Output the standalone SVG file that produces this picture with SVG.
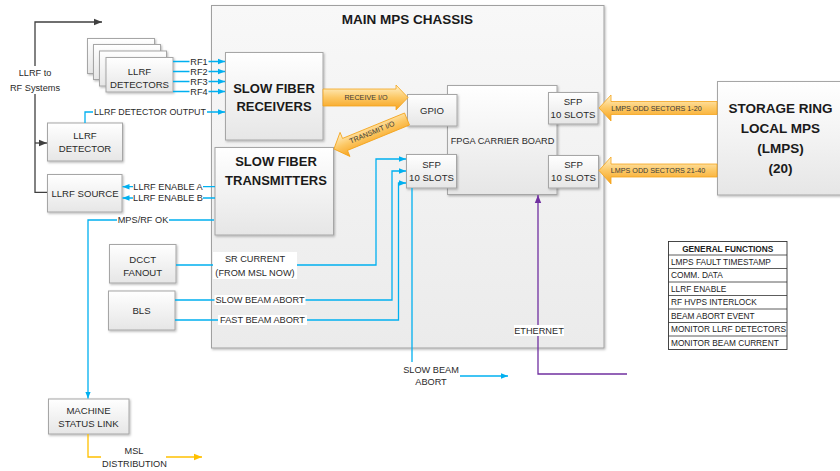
<svg xmlns="http://www.w3.org/2000/svg" width="840" height="471" viewBox="0 0 840 471">
<defs>
<style>
text{font-family:"Liberation Sans",Arial,sans-serif;fill:#2a2a2a;}
.t{font-size:9.6px;text-anchor:middle;}
.l{font-size:9.2px;text-anchor:middle;}
.h{font-size:13.5px;font-weight:bold;text-anchor:middle;fill:#1a1a1a;}
.sm{font-size:7.2px;text-anchor:middle;fill:#3a3a3a;}
.tb{font-size:8.3px;fill:#222;}
.box{fill:url(#gBox);stroke:#a6a6a6;stroke-width:1;filter:url(#sh);}
.bl{fill:none;stroke:#00b0f0;stroke-width:1.3;}
.blk{fill:none;stroke:#404040;stroke-width:1.3;}
.pur{fill:none;stroke:#7030a0;stroke-width:1.3;}
.org{fill:none;stroke:#ffc000;stroke-width:1.3;}
.bg{fill:#fff;}
.oa{fill:url(#gOr);stroke:#f4a31a;stroke-width:0.8;}
.row{stroke:#333;stroke-width:0.8;}
</style>
<linearGradient id="gBox" x1="0" y1="0" x2="0" y2="1">
<stop offset="0" stop-color="#ffffff"/><stop offset="1" stop-color="#e6e6e6"/>
</linearGradient>
<linearGradient id="gCh" x1="0" y1="0" x2="0" y2="1">
<stop offset="0" stop-color="#f8f8f8"/><stop offset="1" stop-color="#ebebeb"/>
</linearGradient>
<linearGradient id="gOr" x1="0" y1="0" x2="0" y2="1">
<stop offset="0" stop-color="#fff3cf"/><stop offset="0.5" stop-color="#fcc865"/><stop offset="1" stop-color="#f7a21c"/>
</linearGradient>
<linearGradient id="gOr2" x1="0" y1="1" x2="0" y2="0">
<stop offset="0" stop-color="#fff3cf"/><stop offset="0.5" stop-color="#fcc865"/><stop offset="1" stop-color="#f7a21c"/>
</linearGradient>
<filter id="sh" x="-10%" y="-10%" width="130%" height="130%">
<feDropShadow dx="1" dy="1.2" stdDeviation="0.9" flood-color="#000" flood-opacity="0.28"/>
</filter>
<marker id="aB" viewBox="0 0 10 10" refX="10" refY="5" markerWidth="7" markerHeight="7" markerUnits="userSpaceOnUse" orient="auto"><path d="M0,1 L10,5 L0,9 z" fill="#00b0f0"/></marker>
<marker id="aK" viewBox="0 0 10 10" refX="10" refY="5" markerWidth="8" markerHeight="8" markerUnits="userSpaceOnUse" orient="auto"><path d="M0,1 L10,5 L0,9 z" fill="#404040"/></marker>
<marker id="aP" viewBox="0 0 10 10" refX="10" refY="5" markerWidth="8" markerHeight="8" markerUnits="userSpaceOnUse" orient="auto"><path d="M0,1 L10,5 L0,9 z" fill="#7030a0"/></marker>
<marker id="aO" viewBox="0 0 10 10" refX="10" refY="5" markerWidth="8" markerHeight="8" markerUnits="userSpaceOnUse" orient="auto"><path d="M0,1 L10,5 L0,9 z" fill="#ffc000"/></marker>
</defs>

<rect width="840" height="471" fill="#fff"/>

<!-- main chassis enclosure -->
<g id="chassis">
<rect x="211.5" y="5.5" width="392.5" height="342.5" fill="url(#gCh)" stroke="#a0a0a0" filter="url(#sh)"/>
<text class="h" x="407.5" y="24">MAIN MPS CHASSIS</text>
</g>

<g id="fpga">
<rect class="box" x="447.5" y="85.5" width="109.5" height="109"/>
<text class="t" x="502.5" y="143.5" style="font-size:9.2px">FPGA CARRIER BOARD</text>
</g>
<g id="gpio">
<rect class="box" x="407.5" y="94.5" width="49.5" height="31.5"/>
<text class="t" x="432" y="113.5">GPIO</text>
</g>
<g id="sfp-in">
<rect class="box" x="406.5" y="154.5" width="50" height="33.5"/>
<text class="t" x="431.5" y="167.5">SFP</text>
<text class="t" x="431.5" y="181">10 SLOTS</text>
</g>
<g id="sfp-r1">
<rect class="box" x="548.5" y="92.5" width="49.5" height="31.5"/>
<text class="t" x="573" y="104.5">SFP</text>
<text class="t" x="573" y="117.5">10 SLOTS</text>
</g>
<g id="sfp-r2">
<rect class="box" x="548.5" y="155.5" width="50" height="32.5"/>
<text class="t" x="573.5" y="167.5">SFP</text>
<text class="t" x="573.5" y="181">10 SLOTS</text>
</g>

<g id="receivers">
<rect class="box" x="225.5" y="52.5" width="97.5" height="87.5"/>
<text class="h" x="274" y="93" style="font-size:13px">SLOW FIBER</text>
<text class="h" x="274" y="111" style="font-size:13px">RECEIVERS</text>
</g>
<g id="transmitters">
<rect class="box" x="215" y="147.5" width="118.5" height="87.5"/>
<text class="h" x="276" y="166" style="font-size:13px">SLOW FIBER</text>
<text class="h" x="276" y="185" style="font-size:13px">TRANSMITTERS</text>
</g>

<g id="llrf-detectors">
<rect class="box" x="87.5" y="38.5" width="67" height="35"/>
<rect class="box" x="93.5" y="44.5" width="67" height="35"/>
<rect class="box" x="99.5" y="51" width="67" height="35"/>
<rect class="box" x="106" y="57.5" width="67" height="34.5"/>
<text class="t" x="139.5" y="74.5">LLRF</text>
<text class="t" x="139.5" y="87.5">DETECTORS</text>
</g>
<g id="llrf-detector">
<rect class="box" x="47.5" y="123" width="75" height="38"/>
<text class="t" x="85" y="138.5">LLRF</text>
<text class="t" x="85" y="151.5">DETECTOR</text>
</g>
<g id="llrf-source">
<rect class="box" x="47.5" y="174.5" width="74.5" height="37.5"/>
<text class="t" x="85" y="196.5">LLRF SOURCE</text>
</g>
<g id="dcct">
<rect class="box" x="109.5" y="244.5" width="66.5" height="38.5"/>
<text class="t" x="142.7" y="262.5">DCCT</text>
<text class="t" x="142.7" y="275.5">FANOUT</text>
</g>
<g id="bls">
<rect class="box" x="108.5" y="291" width="66.5" height="39"/>
<text class="t" x="141.5" y="314">BLS</text>
</g>
<g id="msl">
<rect class="box" x="48.5" y="399" width="80.5" height="35"/>
<text class="t" x="88.5" y="414">MACHINE</text>
<text class="t" x="88.5" y="427">STATUS LINK</text>
</g>
<g id="storage-ring">
<rect class="box" x="717.5" y="81.5" width="130" height="113.5"/>
<text class="h" x="780.5" y="113">STORAGE RING</text>
<text class="h" x="780.5" y="133">LOCAL MPS</text>
<text class="h" x="780.5" y="153">(LMPS)</text>
<text class="h" x="780.5" y="173">(20)</text>
</g>

<g id="general-functions">
<rect x="668.5" y="241.5" width="118.5" height="108" fill="#fff" stroke="#333" stroke-width="0.9"/>
<line class="row" x1="668.5" y1="255" x2="787" y2="255"/>
<line class="row" x1="668.5" y1="268.5" x2="787" y2="268.5" stroke-width="1.4"/>
<line class="row" x1="668.5" y1="282" x2="787" y2="282"/>
<line class="row" x1="668.5" y1="295.5" x2="787" y2="295.5"/>
<line class="row" x1="668.5" y1="309" x2="787" y2="309"/>
<line class="row" x1="668.5" y1="322.5" x2="787" y2="322.5" stroke-width="1.4"/>
<line class="row" x1="668.5" y1="336" x2="787" y2="336"/>
<text class="tb" x="727.7" y="251.5" text-anchor="middle" font-weight="bold">GENERAL FUNCTIONS</text>
<text class="tb" x="671" y="264.5">LMPS FAULT TIMESTAMP</text>
<text class="tb" x="671" y="278">COMM. DATA</text>
<text class="tb" x="671" y="291.5">LLRF ENABLE</text>
<text class="tb" x="671" y="305">RF HVPS INTERLOCK</text>
<text class="tb" x="671" y="318.5">BEAM ABORT EVENT</text>
<text class="tb" x="671" y="332">MONITOR LLRF DETECTORS</text>
<text class="tb" x="671" y="345.5">MONITOR BEAM CURRENT</text>
</g>

<g id="connectors">
<!-- LLRF to RF systems -->
<path class="blk" d="M47,192.3 H35 V22 H102" marker-end="url(#aK)"/>
<path class="blk" d="M35,143 H47" marker-end="url(#aK)"/>
<rect class="bg" x="8" y="66" width="54" height="28"/>
<text class="l" x="35" y="76">LLRF to</text>
<text class="l" x="35" y="90.5">RF Systems</text>

<!-- RF detector channels -->
<path class="bl" d="M173,61.5 H225" marker-end="url(#aB)"/>
<path class="bl" d="M173,71.5 H225" marker-end="url(#aB)"/>
<path class="bl" d="M173,81.5 H225" marker-end="url(#aB)"/>
<path class="bl" d="M173,91.5 H225" marker-end="url(#aB)"/>
<rect class="bg" x="189.5" y="57.5" width="19" height="8"/>
<rect class="bg" x="189.5" y="67.5" width="19" height="8"/>
<rect class="bg" x="189.5" y="77.5" width="19" height="8"/>
<rect class="bg" x="189.5" y="87.5" width="19" height="8"/>
<text class="l" x="199" y="64.8">RF1</text>
<text class="l" x="199" y="74.8">RF2</text>
<text class="l" x="199" y="84.8">RF3</text>
<text class="l" x="199" y="94.8">RF4</text>

<path class="bl" d="M85,123 V112 H225" marker-end="url(#aB)"/>
<rect class="bg" x="93" y="107" width="114" height="10"/>
<text class="l" x="150" y="115.3" style="font-size:8.9px">LLRF DETECTOR OUTPUT</text>

<!-- enables to LLRF source -->
<path class="bl" d="M215,186.7 H122.5" marker-end="url(#aB)"/>
<path class="bl" d="M215,198 H122.5" marker-end="url(#aB)"/>
<rect class="bg" x="133" y="182.5" width="70" height="8.5"/>
<rect class="bg" x="133" y="193.8" width="70" height="8.5"/>
<text class="l" x="168" y="190">LLRF ENABLE A</text>
<text class="l" x="168" y="201.3">LLRF ENABLE B</text>

<!-- MPS/RF OK to machine status link -->
<path class="bl" d="M214,220 H88 V398.5" marker-end="url(#aB)"/>
<rect class="bg" x="117" y="215.5" width="52" height="9"/>
<text class="l" x="143" y="223.3">MPS/RF OK</text>

<!-- inputs to SFP -->
<path class="bl" d="M176,265 H376 V159 H406" marker-end="url(#aB)"/>
<path class="bl" d="M175,300 H392 V171 H406" marker-end="url(#aB)"/>
<path class="bl" d="M175,320 H398.5 V183 H406" marker-end="url(#aB)"/>
<rect class="bg" x="213" y="252" width="84" height="27"/>
<text class="l" x="255" y="262">SR CURRENT</text>
<text class="l" x="255" y="275.5">(FROM MSL NOW)</text>
<rect class="bg" x="214.5" y="295" width="91" height="10"/>
<text class="l" x="260" y="303.3">SLOW BEAM ABORT</text>
<rect class="bg" x="218" y="315" width="89" height="10"/>
<text class="l" x="262.5" y="323.3">FAST BEAM ABORT</text>

<!-- slow beam abort output -->
<path class="bl" d="M412,188 V362"/>
<text class="l" x="431" y="373">SLOW BEAM</text>
<text class="l" x="431" y="384.5">ABORT</text>
<path class="bl" d="M460,376 H508" marker-end="url(#aB)"/>

<!-- ethernet -->
<path class="pur" d="M627,374 H538 V195" marker-end="url(#aP)"/>
<rect class="bg" x="514" y="325" width="50" height="11"/>
<text class="l" x="539" y="334">ETHERNET</text>

<!-- MSL distribution -->
<path class="org" d="M88,434 V457 H101"/>
<path class="org" d="M166,457 H202" marker-end="url(#aO)"/>
<text class="l" x="134" y="454">MSL</text>
<text class="l" x="134.5" y="466.5">DISTRIBUTION</text>

<!-- fiber I/O block arrows -->
<polygon class="oa" points="323,89 396,89 396,85 408,97.5 396,110 396,106 323,106"/>
<text class="sm" x="366" y="100">RECEIVE I/O</text>
<g transform="translate(407,119) rotate(157.7)">
<polygon points="0,-6.5 67,-6.5 67,-13 79,0 67,13 67,6.5 0,6.5" fill="url(#gOr2)" stroke="#f4a31a" stroke-width="0.8"/>
</g>
<text class="sm" transform="translate(373,134.5) rotate(-22.3)" x="0" y="0">TRANSMIT I/O</text>
<polygon class="oa" points="717,101.5 611,101.5 611,95 599,108 611,121 611,114.5 717,114.5"/>
<text class="sm" x="656.5" y="110.5">LMPS ODD SECTORS 1-20</text>
<polygon class="oa" points="717,164 611,164 611,157 599,170.5 611,184 611,177 717,177"/>
<text class="sm" x="658" y="173">LMPS ODD SECTORS 21-40</text>
</g>
</svg>
